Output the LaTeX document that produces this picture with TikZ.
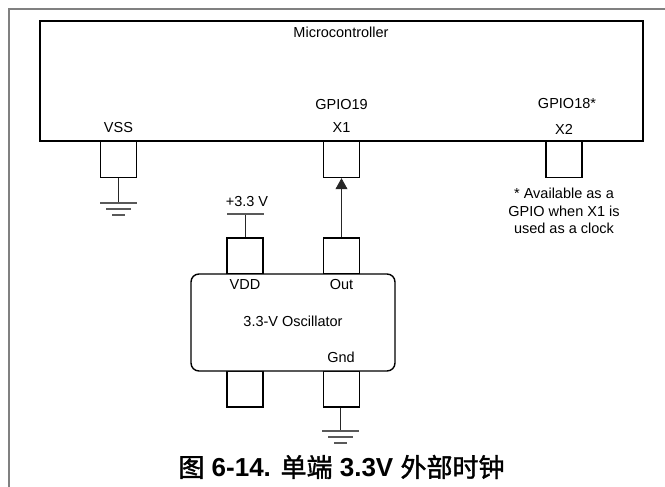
\documentclass[tikz,border=0pt]{standalone}
\usepackage{fontspec}
\setmainfont{Liberation Sans}
\newfontfamily\cjkfont[FakeBold=1.5]{Noto Sans CJK SC}
\usetikzlibrary{arrows.meta,positioning}
\tikzstyle{chip}=[
	rectangle,
	draw=black,
	line width=1.4pt,
	inner sep=0pt
]
\tikzstyle{pin}=[
	chip,
	minimum width=36pt,
	minimum height=36pt
]
\tikzstyle{label}=[
	inner sep=0pt,
	font=\fontsize{14.5}{17}\selectfont
]
\tikzstyle{wire}=[
	line width=0.8pt,
	draw=black!85
]
\tikzstyle{rail}=[
	line width=1.1pt,
	draw=black!65
]
\begin{document}
\begin{tikzpicture}[x=1pt,y=-1pt]
\useasboundingbox (0,0) rectangle (665,487);
\draw [line width=1.2pt, draw=black!50] (9,487) -- (9,9) -- (665,9);
\node [pin] (PinVSS) at (118.5,159.5) {};
\node [pin] (PinXone) at (341.5,159.5) {};
\node [pin] (PinXtwo) at (564,159.5) {};
\node [pin] (PinVDD) at (245,256) {};
\node [pin] (PinOut) at (341.5,256) {};
\node [pin] (PinNC) at (245,389) {};
\node [pin] (PinGnd) at (341.5,389) {};
\node [chip, fill=white, minimum width=603pt, minimum height=120pt] (Micro) at (341.5,81) {};
\node [chip, fill=white, rounded corners=8pt, minimum width=204pt, minimum height=97pt] (Osc) at (293,322.5) {};
\node [label] (MicroName) at (341,32) {Microcontroller};
\node [label] (VSS) at (118.5,128) {VSS};
\node [label] (GPIOa) at (341.5,105) {GPIO19};
\node [label] (Xone) at (341.5,128) {X1};
\node [label] (GPIOb) at (567,104) {GPIO18*};
\node [label] (Xtwo) at (564,129) {X2};
\node [label] (Note) at (564,211) [align=center, font=\fontsize{14.5}{17.5}\selectfont] {* Available as a\\GPIO when X1 is\\used as a clock};
\node [label] (Supply) at (247,202) {+3.3 V};
\node [label] (VDD) at (245,285) {VDD};
\node [label] (Out) at (341.5,285) {Out};
\node [label] (OscName) at (293,321) {3.3-V Oscillator};
\node [label] (Gnd) at (341,357) {Gnd};
\node [inner sep=0pt, font=\fontsize{26}{30}\selectfont\bfseries] (Caption) at (341.5,467) {{\cjkfont\mdseries 图} 6-14. {\cjkfont\mdseries 单端} 3.3V {\cjkfont\mdseries 外部时钟}};
% power and ground
\coordinate (TopRail) at (245,214);
\coordinate (GndA) at (118.5,203);
\coordinate (GndB) at (340.5,431);
\draw [wire] (PinVDD.north) -- (TopRail);
\draw [rail] (227,214) -- (264,214);
\draw [wire] (PinVSS.south) -- (GndA);
\draw [wire] (PinGnd.south -| GndB) -- (GndB);
\foreach \gx/\gy in {118.5/203, 340.5/431} {
	\draw [rail] (\gx-18.5,\gy) -- (\gx+18.5,\gy);
	\draw [rail] (\gx-12.5,\gy+6) -- (\gx+12.5,\gy+6);
	\draw [rail] (\gx-6.5,\gy+12) -- (\gx+6.5,\gy+12);
}
% clock
\draw [wire, -{Triangle[length=11pt,width=12pt]}] (PinOut.north) -- (PinXone.south);
\end{tikzpicture}
\end{document}
